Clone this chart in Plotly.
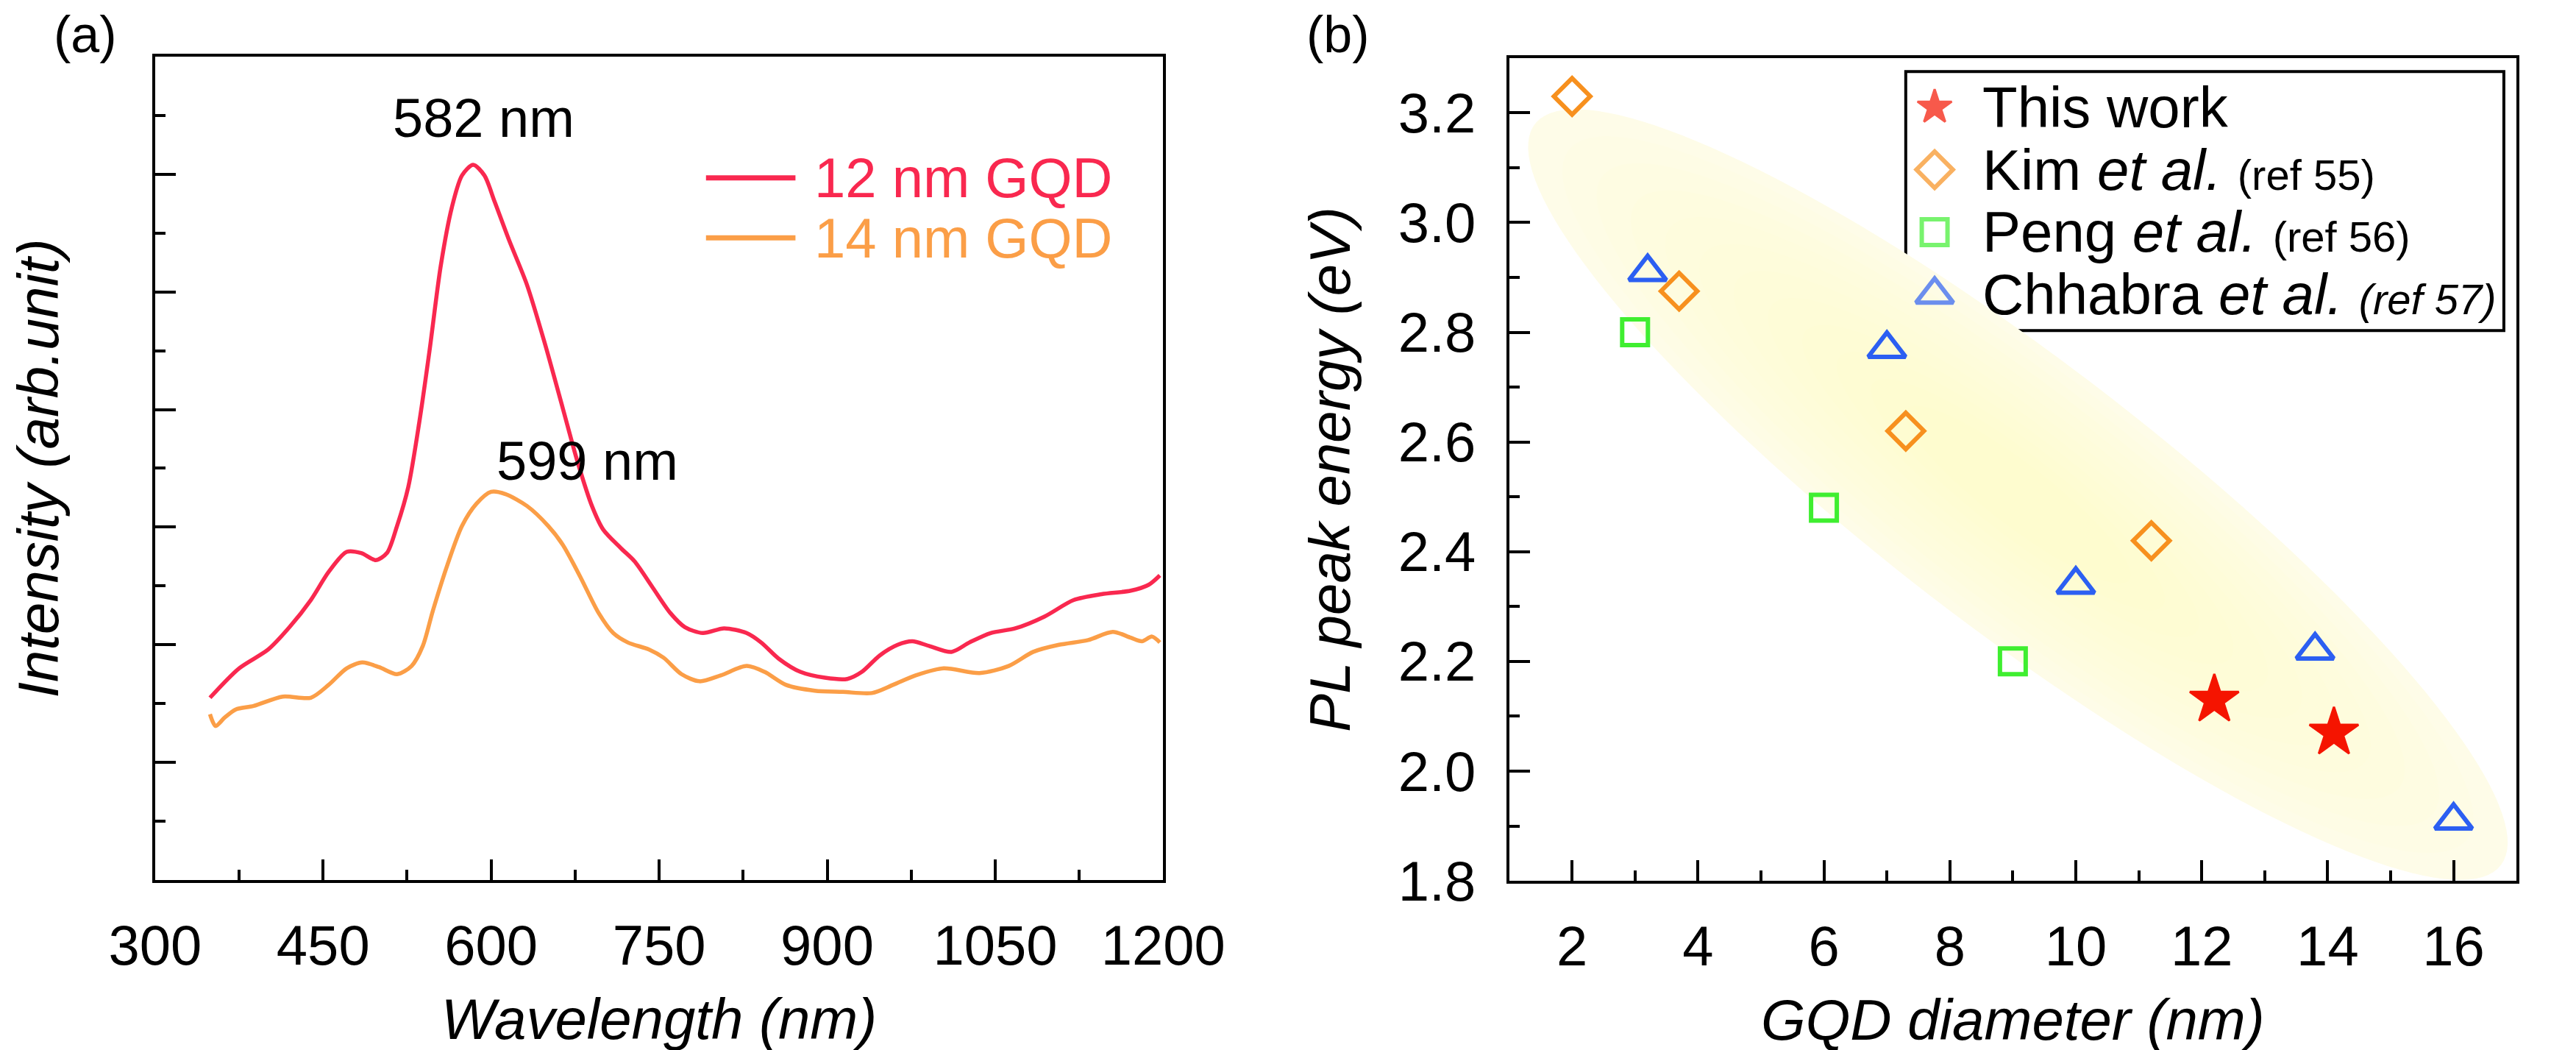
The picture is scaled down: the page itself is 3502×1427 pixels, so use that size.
import numpy as np
import plotly.graph_objects as go

W, H = 3502, 1427
FONT = "Liberation Sans, Arial, Helvetica, sans-serif"

# ---------------- Panel (a): PL spectra ----------------
wl_12nm = [349, 375, 401, 420, 439, 455, 471, 484, 497, 507, 516, 526, 536, 545, 555,
           565, 574, 584, 594, 603, 616, 632, 648, 664, 677, 690, 700, 716, 728, 744,
           760, 773, 789, 808, 828, 841, 857, 876, 898, 918, 931, 947, 963, 976, 991,
           1011, 1027, 1046, 1068, 1094, 1120, 1145, 1171, 1187, 1197]
int_12nm = [1.55, 1.80, 1.96, 2.15, 2.38, 2.62, 2.79, 2.78, 2.72, 2.78, 3.01, 3.34, 3.90, 4.50, 5.22,
            5.72, 5.99, 6.08, 5.99, 5.77, 5.44, 5.06, 4.56, 4.01, 3.56, 3.18, 2.98, 2.82, 2.71, 2.49,
            2.27, 2.15, 2.10, 2.14, 2.10, 2.02, 1.88, 1.77, 1.72, 1.71, 1.77, 1.91, 2.00, 2.03, 1.99,
            1.94, 2.02, 2.10, 2.14, 2.24, 2.38, 2.43, 2.46, 2.51, 2.59]

wl_14nm = [349, 354, 362, 372, 388, 414, 439, 455, 471, 485, 500, 516, 529, 539, 548,
           561, 574, 587, 600, 613, 632, 651, 664, 680, 696, 709, 722, 741, 754, 770,
           786, 805, 828, 844, 863, 889, 914, 940, 959, 979, 1004, 1036, 1062, 1084, 1107,
           1133, 1155, 1171, 1181, 1190, 1197]
int_14nm = [1.41, 1.31, 1.38, 1.45, 1.48, 1.56, 1.55, 1.66, 1.80, 1.85, 1.81, 1.75, 1.82, 1.99, 2.29,
            2.68, 3.01, 3.20, 3.30, 3.28, 3.18, 3.01, 2.85, 2.57, 2.27, 2.10, 2.02, 1.96, 1.89, 1.75,
            1.69, 1.74, 1.82, 1.77, 1.66, 1.61, 1.60, 1.59, 1.66, 1.74, 1.80, 1.76, 1.82, 1.94, 2.00,
            2.04, 2.11, 2.06, 2.03, 2.07, 2.02]

curve_names = ["12 nm GQD", "14 nm GQD"]
curve_colors = ["#f9284f", "#fb9e47"]
peak_labels = ["582 nm", "599 nm"]
peak_label_x = [593, 686]
peak_label_y = [6.48, 3.56]

# ---------------- Panel (b): PL peak energy vs diameter ----------------
this_work_d = [12.2, 14.1]
this_work_e = [2.13, 2.07]
kim_d = [2.0, 3.7, 7.3, 11.2]
kim_e = [3.23, 2.875, 2.62, 2.42]
peng_d = [3.0, 6.0, 9.0]
peng_e = [2.80, 2.48, 2.20]
chhabra_d = [3.2, 7.0, 10.0, 13.8, 16.0]
chhabra_e = [2.91, 2.77, 2.34, 2.22, 1.91]

series_b = [
    dict(name="This work", x=this_work_d, y=this_work_e, symbol="star", color="#f51400", size=50, lw=3, lsize=35),
    dict(name="Kim et al. (ref 55)", x=kim_d, y=kim_e, symbol="diamond-open", color="#f7901e", size=38, lw=6, lsize=38),
    dict(name="Peng et al. (ref 56)", x=peng_d, y=peng_e, symbol="square-open", color="#3fee30", size=35, lw=6, lsize=35),
    dict(name="Chhabra et al. (ref 57)", x=chhabra_d, y=chhabra_e, symbol="triangle-up-open", color="#2c5ff2", size=44, lw=6, lsize=44),
]
legend_b_labels = [
    "This work",
    "Kim <i>et al.</i> <span style='font-size:58px'>(ref 55)</span>",
    "Peng <i>et al.</i> <span style='font-size:58px'>(ref 56)</span>",
    "Chhabra <i>et al.</i> <span style='font-size:58px'><i>(ref 57)</i></span>",
]

# ---------------- geometry (pixels) ----------------
A_X0, A_X1, A_Y0, A_Y1 = 146, 1577, 71, 1225
B_X0, B_X1, B_Y0, B_Y1 = 2068, 3498, 73, 1226
LB_X0, LB_X1, LB_Y0, LB_Y1 = 2631, 3480, 92, 455

def dom_x(a, b):
    return [a / W, b / W]

def dom_y(top, bottom):
    return [1 - bottom / H, 1 - top / H]

fig = go.Figure()

# Panel (a) curves
for wl, inten, name, col in zip([wl_12nm, wl_14nm], [int_12nm, int_14nm], curve_names, curve_colors):
    fig.add_trace(go.Scatter(x=wl, y=inten, mode="lines", name=name,
                             line=dict(color=col, width=5.5, shape="spline", smoothing=0.8),
                             xaxis="x", yaxis="y", showlegend=False))

# Panel (b) markers
for s in series_b:
    fig.add_trace(go.Scatter(x=s["x"], y=s["y"], mode="markers", name=s["name"],
                             marker=dict(symbol=s["symbol"], size=s["size"], color=s["color"],
                                         line=dict(color=s["color"], width=s["lw"])),
                             xaxis="x2", yaxis="y2", showlegend=False))

# Legend (b) keys on an overlay axis spanning the legend box
lb_w, lb_h = LB_X1 - LB_X0, LB_Y1 - LB_Y0
row0, row_gap, key_x, text_x = 50, 87.5, 41, 107
rows = [row0 + i * row_gap for i in range(len(series_b))]
fig.add_trace(go.Scatter(
    x=[key_x] * len(series_b), y=rows, mode="markers", showlegend=False, hoverinfo="skip",
    marker=dict(symbol=[s["symbol"] for s in series_b], size=[s["lsize"] for s in series_b],
                color=[s["color"] for s in series_b],
                line=dict(color=[s["color"] for s in series_b], width=[s["lw"] for s in series_b])),
    xaxis="x3", yaxis="y3"))

axis_common = dict(showline=True, linewidth=4, linecolor="black", mirror=True,
                   ticks="inside", ticklen=28, tickwidth=4, tickcolor="black",
                   showgrid=False, zeroline=False,
                   tickfont=dict(family=FONT, size=76, color="black"))

fig.update_layout(
    width=W, height=H, margin=dict(l=0, r=0, t=0, b=0),
    paper_bgcolor="white", plot_bgcolor="rgba(0,0,0,0)",
    font=dict(family=FONT, size=76, color="black"),
    showlegend=False,
    xaxis=dict(domain=dom_x(A_X0, A_X1), range=[300, 1200], tick0=300, dtick=150,
               minor=dict(ticks="inside", ticklen=14, tickwidth=4, tickcolor="black", dtick=75, tick0=300),
               ticklabelstandoff=20,
               title=dict(text="<i>Wavelength (nm)</i>", font=dict(family=FONT, size=78), standoff=32),
               anchor="y", **axis_common),
    yaxis=dict(domain=dom_y(A_Y0, A_Y1), range=[0, 7], tick0=0, dtick=1, showticklabels=False,
               minor=dict(ticks="inside", ticklen=14, tickwidth=4, tickcolor="black", dtick=0.5, tick0=0),
               title=dict(text="<i>Intensity (arb.unit)</i>", font=dict(family=FONT, size=78), standoff=116),
               anchor="x", **axis_common),
    xaxis2=dict(domain=dom_x(B_X0, B_X1), range=[1, 17], tick0=0, dtick=2,
                minor=dict(ticks="inside", ticklen=14, tickwidth=4, tickcolor="black", dtick=1, tick0=0),
                ticklabelstandoff=20,
                title=dict(text="<i>GQD diameter (nm)</i>", font=dict(family=FONT, size=78), standoff=32),
                anchor="y2", **axis_common),
    yaxis2=dict(domain=dom_y(B_Y0, B_Y1), range=[1.8, 3.3], tick0=1.8, dtick=0.2, tickformat=".1f",
                minor=dict(ticks="inside", ticklen=14, tickwidth=4, tickcolor="black", dtick=0.1, tick0=1.8),
                ticklabelstandoff=26,
                title=dict(text="<i>PL peak energy (eV)</i>", font=dict(family=FONT, size=78), standoff=40),
                anchor="x2", **axis_common),
    xaxis3=dict(domain=dom_x(LB_X0, LB_X1), range=[0, lb_w], visible=False, fixedrange=True, anchor="y3"),
    yaxis3=dict(domain=dom_y(LB_Y0, LB_Y1), range=[lb_h, 0], visible=False, fixedrange=True, anchor="x3"),
)

# Pale yellow gradient ellipse (panel b background decoration)
sx = (B_X1 - B_X0) / (17 - 1)
sy = (B_Y1 - B_Y0) / (3.3 - 1.8)
ell_cx, ell_cy = 9.08, 2.504
ell_a, ell_b, ell_ang = 860, 188, np.radians(37.1)

def ellipse_path(scale):
    t = np.linspace(0, 2 * np.pi, 160)
    dx = scale * (ell_a * np.cos(t) * np.cos(ell_ang) - ell_b * np.sin(t) * np.sin(ell_ang))
    dy = scale * (ell_a * np.cos(t) * np.sin(ell_ang) + ell_b * np.sin(t) * np.cos(ell_ang))
    xs = ell_cx + dx / sx
    ys = ell_cy - dy / sy
    return "M " + " L ".join(f"{x:.4f},{y:.5f}" for x, y in zip(xs, ys)) + " Z"

shapes = [dict(type="path", path=ellipse_path(1.0), xref="x2", yref="y2", layer="below",
               fillcolor="#fefce8", line=dict(width=0))]
for k in range(1, 12):
    shapes.append(dict(type="path", path=ellipse_path(1 - k * 0.07), xref="x2", yref="y2", layer="below",
                       fillcolor="rgba(248,244,150,0.033)", line=dict(width=0)))

# Legend (b) box
shapes.append(dict(type="rect", xref="x3 domain", yref="y3 domain", x0=0, x1=1, y0=0, y1=1,
                   fillcolor="white", line=dict(color="black", width=4), layer="below"))

# Legend (a) lines
la_x0, la_x1, la_text_x = 928, 1055, 1080
la_rows = [241, 325]
for yy, col in zip(la_rows, curve_colors):
    shapes.append(dict(type="line", xref="paper", yref="paper", x0=la_x0 / W, x1=la_x1 / W,
                       y0=1 - yy / H, y1=1 - yy / H, line=dict(color=col, width=7)))

annotations = []
for name, yy, col in zip(curve_names, la_rows, curve_colors):
    annotations.append(dict(text=name, xref="paper", yref="paper", x=la_text_x / W, y=1 - yy / H,
                            xanchor="left", yanchor="middle", showarrow=False,
                            font=dict(family=FONT, size=76, color=col)))
for lab, px, py in zip(peak_labels, peak_label_x, peak_label_y):
    annotations.append(dict(text=lab, xref="x", yref="y", x=px, y=py, showarrow=False,
                            xanchor="center", yanchor="middle", font=dict(family=FONT, size=74, color="black")))
for lab, ry in zip(legend_b_labels, rows):
    annotations.append(dict(text=lab, xref="x3", yref="y3", x=text_x, y=ry, showarrow=False,
                            xanchor="left", yanchor="middle", font=dict(family=FONT, size=78, color="black")))
annotations.append(dict(text="(a)", xref="paper", yref="paper", x=0, y=1, xanchor="left", yanchor="top",
                        yshift=2, showarrow=False, font=dict(family=FONT, size=70, color="black")))
annotations.append(dict(text="(b)", xref="paper", yref="paper", x=1778 / W, y=1, xanchor="left", yanchor="top",
                        yshift=2, showarrow=False, font=dict(family=FONT, size=70, color="black")))

fig.update_layout(shapes=shapes, annotations=annotations)
fig.write_html("out.html")
